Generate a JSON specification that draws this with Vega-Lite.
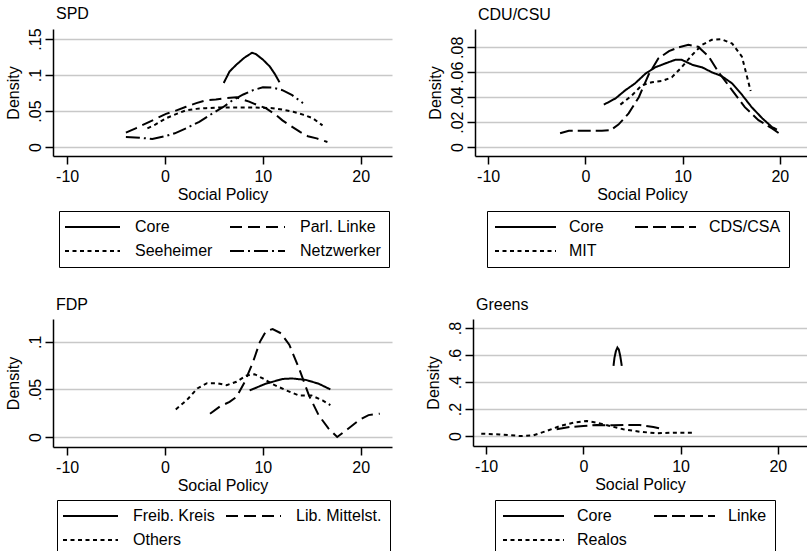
{
  "$schema": "https://vega.github.io/schema/vega-lite/v6.json",
  "padding": {"left": 5, "top": 5, "right": 0, "bottom": 0},
  "config": {
    "font": "Liberation Sans",
    "view": {"stroke": null},
    "title": {"anchor": "start", "frame": "group", "fontSize": 16, "fontWeight": "normal", "color": "black", "offset": 6, "dx": 3},
    "axis": {"domainColor": "black", "domainWidth": 1.5, "tickColor": "black", "tickWidth": 1.5, "tickSize": 8, "labelFontSize": 16, "labelColor": "black", "titleFontSize": 16, "titleFontWeight": "normal", "titleColor": "black", "grid": false, "gridColor": "#c8c8c8", "gridWidth": 1.5, "labelPadding": 4, "titlePadding": 2, "labelOverlap": false, "labelFlush": false, "labelBound": false},
    "axisY": {"labelAngle": -90, "labelAlign": "center", "labelBaseline": "alphabetic", "grid": true, "labelPadding": 5, "titlePadding": 6},
    "legend": {"orient": "none", "direction": "horizontal", "columns": 2, "symbolSize": 196, "symbolStrokeWidth": 2, "symbolStrokeColor": "black", "symbolFillColor": "transparent", "labelFontSize": 16, "labelColor": "black", "strokeColor": "black", "padding": 8, "rowPadding": 8, "columnPadding": 22, "title": null}
  },
  "resolve": {"scale": {"x": "independent", "y": "independent", "strokeDash": "independent"}, "legend": {"strokeDash": "independent"}},
  "spacing": 29,
  "vconcat": [
    {
      "spacing": 35,
      "resolve": {"scale": {"x": "independent", "y": "independent", "strokeDash": "independent"}, "legend": {"strokeDash": "independent"}},
      "hconcat": [
        {
          "width": 339, "height": 127,
          "title": {"text": "SPD"},
          "data": {"values": [
            {"g": "Core", "x": 6.0, "y": 0.089}, {"g": "Core", "x": 6.6, "y": 0.105}, {"g": "Core", "x": 7.3, "y": 0.1145}, {"g": "Core", "x": 8.1, "y": 0.124}, {"g": "Core", "x": 8.9, "y": 0.131}, {"g": "Core", "x": 9.3, "y": 0.129}, {"g": "Core", "x": 10.0, "y": 0.1215}, {"g": "Core", "x": 10.7, "y": 0.112}, {"g": "Core", "x": 11.2, "y": 0.102}, {"g": "Core", "x": 11.7, "y": 0.09},
            {"g": "Parl. Linke", "x": -4.0, "y": 0.020}, {"g": "Parl. Linke", "x": -3.0, "y": 0.026}, {"g": "Parl. Linke", "x": -1.6, "y": 0.035}, {"g": "Parl. Linke", "x": 0.1, "y": 0.046}, {"g": "Parl. Linke", "x": 1.0, "y": 0.050}, {"g": "Parl. Linke", "x": 2.15, "y": 0.056}, {"g": "Parl. Linke", "x": 3.2, "y": 0.061}, {"g": "Parl. Linke", "x": 4.2, "y": 0.065}, {"g": "Parl. Linke", "x": 5.2, "y": 0.066}, {"g": "Parl. Linke", "x": 6.25, "y": 0.068}, {"g": "Parl. Linke", "x": 7.3, "y": 0.069}, {"g": "Parl. Linke", "x": 8.6, "y": 0.063}, {"g": "Parl. Linke", "x": 9.5, "y": 0.058}, {"g": "Parl. Linke", "x": 10.3, "y": 0.054}, {"g": "Parl. Linke", "x": 11.2, "y": 0.046}, {"g": "Parl. Linke", "x": 12.0, "y": 0.037}, {"g": "Parl. Linke", "x": 13.0, "y": 0.028}, {"g": "Parl. Linke", "x": 13.8, "y": 0.021}, {"g": "Parl. Linke", "x": 14.6, "y": 0.015}, {"g": "Parl. Linke", "x": 15.5, "y": 0.012}, {"g": "Parl. Linke", "x": 16.6, "y": 0.007},
            {"g": "Seeheimer", "x": -1.8, "y": 0.026}, {"g": "Seeheimer", "x": -1.0, "y": 0.031}, {"g": "Seeheimer", "x": 0.1, "y": 0.040}, {"g": "Seeheimer", "x": 1.0, "y": 0.045}, {"g": "Seeheimer", "x": 2.15, "y": 0.051}, {"g": "Seeheimer", "x": 3.2, "y": 0.053}, {"g": "Seeheimer", "x": 4.2, "y": 0.054}, {"g": "Seeheimer", "x": 5.5, "y": 0.055}, {"g": "Seeheimer", "x": 6.9, "y": 0.055}, {"g": "Seeheimer", "x": 9.0, "y": 0.055}, {"g": "Seeheimer", "x": 11.0, "y": 0.054}, {"g": "Seeheimer", "x": 12.0, "y": 0.052}, {"g": "Seeheimer", "x": 13.1, "y": 0.049}, {"g": "Seeheimer", "x": 14.1, "y": 0.045}, {"g": "Seeheimer", "x": 15.1, "y": 0.040}, {"g": "Seeheimer", "x": 16.1, "y": 0.030},
            {"g": "Netzwerker", "x": -4.0, "y": 0.014}, {"g": "Netzwerker", "x": -2.6, "y": 0.013}, {"g": "Netzwerker", "x": -1.3, "y": 0.011}, {"g": "Netzwerker", "x": 0.0, "y": 0.015}, {"g": "Netzwerker", "x": 1.0, "y": 0.019}, {"g": "Netzwerker", "x": 2.15, "y": 0.026}, {"g": "Netzwerker", "x": 3.5, "y": 0.035}, {"g": "Netzwerker", "x": 4.9, "y": 0.047}, {"g": "Netzwerker", "x": 6.0, "y": 0.056}, {"g": "Netzwerker", "x": 6.9, "y": 0.065}, {"g": "Netzwerker", "x": 8.0, "y": 0.073}, {"g": "Netzwerker", "x": 9.0, "y": 0.079}, {"g": "Netzwerker", "x": 10.0, "y": 0.083}, {"g": "Netzwerker", "x": 11.0, "y": 0.0825}, {"g": "Netzwerker", "x": 12.0, "y": 0.079}, {"g": "Netzwerker", "x": 13.0, "y": 0.072}, {"g": "Netzwerker", "x": 14.1, "y": 0.061}
          ]},
          "mark": {"type": "line", "color": "black", "strokeWidth": 2},
          "encoding": {
            "x": {"field": "x", "type": "quantitative", "scale": {"domain": [-11.45, 23.2], "nice": false, "zero": false}, "axis": {"values": [-10, 0, 10, 20], "title": "Social Policy", "labelExpr": "toString(datum.value)"}},
            "y": {"field": "y", "type": "quantitative", "scale": {"domain": [-0.0125, 0.164], "nice": false, "zero": false}, "axis": {"values": [0, 0.05, 0.1, 0.15], "title": "Density", "labelExpr": "datum.value == 0 ? '0' : substring(format(datum.value, '.2~f'), 1)"}},
            "strokeDash": {"field": "g", "type": "nominal", "scale": {"domain": ["Core", "Parl. Linke", "Seeheimer", "Netzwerker"], "range": [[1, 0], [12, 6], [4, 3.5], [14, 4, 2, 4]]}, "legend": {"legendX": 6, "legendY": 182, "symbolType": "M-1.4286,0H6.4286", "labelOffset": 52, "columnPadding": 12}}
          }
        },
        {
          "width": 334, "height": 127,
          "title": {"text": "CDU/CSU"},
          "data": {"values": [
            {"g": "Core", "x": 1.9, "y": 0.034}, {"g": "Core", "x": 3.1, "y": 0.039}, {"g": "Core", "x": 4.1, "y": 0.0455}, {"g": "Core", "x": 5.1, "y": 0.051}, {"g": "Core", "x": 6.2, "y": 0.059}, {"g": "Core", "x": 7.2, "y": 0.064}, {"g": "Core", "x": 8.2, "y": 0.067}, {"g": "Core", "x": 9.25, "y": 0.070}, {"g": "Core", "x": 9.9, "y": 0.070}, {"g": "Core", "x": 11.0, "y": 0.066}, {"g": "Core", "x": 12.0, "y": 0.064}, {"g": "Core", "x": 13.0, "y": 0.060}, {"g": "Core", "x": 14.0, "y": 0.057}, {"g": "Core", "x": 15.1, "y": 0.051}, {"g": "Core", "x": 16.1, "y": 0.042}, {"g": "Core", "x": 17.1, "y": 0.032}, {"g": "Core", "x": 18.2, "y": 0.023}, {"g": "Core", "x": 19.2, "y": 0.016}, {"g": "Core", "x": 19.7, "y": 0.014},
            {"g": "CDS/CSA", "x": -2.6, "y": 0.011}, {"g": "CDS/CSA", "x": -1.7, "y": 0.013}, {"g": "CDS/CSA", "x": 0.0, "y": 0.013}, {"g": "CDS/CSA", "x": 1.7, "y": 0.013}, {"g": "CDS/CSA", "x": 2.6, "y": 0.0135}, {"g": "CDS/CSA", "x": 3.4, "y": 0.018}, {"g": "CDS/CSA", "x": 4.45, "y": 0.027}, {"g": "CDS/CSA", "x": 5.5, "y": 0.040}, {"g": "CDS/CSA", "x": 6.5, "y": 0.058}, {"g": "CDS/CSA", "x": 7.5, "y": 0.071}, {"g": "CDS/CSA", "x": 8.6, "y": 0.077}, {"g": "CDS/CSA", "x": 9.6, "y": 0.080}, {"g": "CDS/CSA", "x": 10.6, "y": 0.082}, {"g": "CDS/CSA", "x": 11.6, "y": 0.0805}, {"g": "CDS/CSA", "x": 12.7, "y": 0.0725}, {"g": "CDS/CSA", "x": 13.7, "y": 0.060}, {"g": "CDS/CSA", "x": 15.1, "y": 0.0455}, {"g": "CDS/CSA", "x": 16.4, "y": 0.032}, {"g": "CDS/CSA", "x": 17.8, "y": 0.0215}, {"g": "CDS/CSA", "x": 19.2, "y": 0.015}, {"g": "CDS/CSA", "x": 20.2, "y": 0.0095},
            {"g": "MIT", "x": 3.6, "y": 0.034}, {"g": "MIT", "x": 4.8, "y": 0.0415}, {"g": "MIT", "x": 5.8, "y": 0.0495}, {"g": "MIT", "x": 6.85, "y": 0.052}, {"g": "MIT", "x": 7.9, "y": 0.053}, {"g": "MIT", "x": 8.9, "y": 0.056}, {"g": "MIT", "x": 9.9, "y": 0.064}, {"g": "MIT", "x": 11.0, "y": 0.074}, {"g": "MIT", "x": 12.0, "y": 0.082}, {"g": "MIT", "x": 13.0, "y": 0.086}, {"g": "MIT", "x": 14.0, "y": 0.0865}, {"g": "MIT", "x": 15.1, "y": 0.083}, {"g": "MIT", "x": 16.1, "y": 0.0725}, {"g": "MIT", "x": 17.0, "y": 0.045}
          ]},
          "mark": {"type": "line", "color": "black", "strokeWidth": 2},
          "encoding": {
            "x": {"field": "x", "type": "quantitative", "scale": {"domain": [-11.35, 23.0], "nice": false, "zero": false}, "axis": {"values": [-10, 0, 10, 20], "title": "Social Policy", "labelExpr": "toString(datum.value)"}},
            "y": {"field": "y", "type": "quantitative", "scale": {"domain": [-0.0072, 0.0947], "nice": false, "zero": false}, "axis": {"values": [0, 0.02, 0.04, 0.06, 0.08], "title": "Density", "labelExpr": "datum.value == 0 ? '0' : substring(format(datum.value, '.2~f'), 1)"}},
            "strokeDash": {"field": "g", "type": "nominal", "scale": {"domain": ["Core", "CDS/CSA", "MIT"], "range": [[1, 0], [13, 5], [4, 3.5]]}, "legend": {"legendX": 12, "legendY": 182, "symbolType": "M-1.1429,0H7.5714", "labelOffset": 58, "columnPadding": 26}}
          }
        }
      ]
    },
    {
      "spacing": 33,
      "resolve": {"scale": {"x": "independent", "y": "independent", "strokeDash": "independent"}, "legend": {"strokeDash": "independent"}},
      "hconcat": [
        {
          "width": 339, "height": 128,
          "title": {"text": "FDP"},
          "data": {"values": [
            {"g": "Freib. Kreis", "x": 8.65, "y": 0.049}, {"g": "Freib. Kreis", "x": 10.3, "y": 0.056}, {"g": "Freib. Kreis", "x": 12.0, "y": 0.061}, {"g": "Freib. Kreis", "x": 13.0, "y": 0.0615}, {"g": "Freib. Kreis", "x": 14.4, "y": 0.060}, {"g": "Freib. Kreis", "x": 15.7, "y": 0.056}, {"g": "Freib. Kreis", "x": 16.9, "y": 0.050},
            {"g": "Lib. Mittelst.", "x": 4.6, "y": 0.0245}, {"g": "Lib. Mittelst.", "x": 5.6, "y": 0.032}, {"g": "Lib. Mittelst.", "x": 6.6, "y": 0.037}, {"g": "Lib. Mittelst.", "x": 7.3, "y": 0.042}, {"g": "Lib. Mittelst.", "x": 8.15, "y": 0.058}, {"g": "Lib. Mittelst.", "x": 9.0, "y": 0.079}, {"g": "Lib. Mittelst.", "x": 9.7, "y": 0.100}, {"g": "Lib. Mittelst.", "x": 10.3, "y": 0.111}, {"g": "Lib. Mittelst.", "x": 11.0, "y": 0.1135}, {"g": "Lib. Mittelst.", "x": 11.85, "y": 0.109}, {"g": "Lib. Mittelst.", "x": 12.7, "y": 0.097}, {"g": "Lib. Mittelst.", "x": 13.7, "y": 0.072}, {"g": "Lib. Mittelst.", "x": 14.7, "y": 0.044}, {"g": "Lib. Mittelst.", "x": 15.7, "y": 0.023}, {"g": "Lib. Mittelst.", "x": 16.7, "y": 0.009}, {"g": "Lib. Mittelst.", "x": 17.6, "y": 0.0}, {"g": "Lib. Mittelst.", "x": 18.75, "y": 0.009}, {"g": "Lib. Mittelst.", "x": 19.8, "y": 0.0175}, {"g": "Lib. Mittelst.", "x": 20.8, "y": 0.023}, {"g": "Lib. Mittelst.", "x": 21.95, "y": 0.0245},
            {"g": "Others", "x": 1.1, "y": 0.029}, {"g": "Others", "x": 2.25, "y": 0.039}, {"g": "Others", "x": 3.3, "y": 0.051}, {"g": "Others", "x": 4.3, "y": 0.0565}, {"g": "Others", "x": 5.3, "y": 0.0565}, {"g": "Others", "x": 6.3, "y": 0.0545}, {"g": "Others", "x": 7.3, "y": 0.058}, {"g": "Others", "x": 8.3, "y": 0.0645}, {"g": "Others", "x": 9.15, "y": 0.066}, {"g": "Others", "x": 10.0, "y": 0.0615}, {"g": "Others", "x": 11.0, "y": 0.0555}, {"g": "Others", "x": 12.4, "y": 0.049}, {"g": "Others", "x": 13.7, "y": 0.0435}, {"g": "Others", "x": 15.0, "y": 0.0435}, {"g": "Others", "x": 16.1, "y": 0.0385}, {"g": "Others", "x": 16.9, "y": 0.0335}
          ]},
          "mark": {"type": "line", "color": "black", "strokeWidth": 2},
          "encoding": {
            "x": {"field": "x", "type": "quantitative", "scale": {"domain": [-11.45, 23.2], "nice": false, "zero": false}, "axis": {"values": [-10, 0, 10, 20], "title": "Social Policy", "labelExpr": "toString(datum.value)"}},
            "y": {"field": "y", "type": "quantitative", "scale": {"domain": [-0.0105, 0.124], "nice": false, "zero": false}, "axis": {"values": [0, 0.05, 0.1], "title": "Density", "labelExpr": "datum.value == 0 ? '0' : substring(format(datum.value, '.2~f'), 1)"}},
            "strokeDash": {"field": "g", "type": "nominal", "scale": {"domain": ["Freib. Kreis", "Lib. Mittelst.", "Others"], "range": [[1, 0], [12, 6], [4, 3.5]]}, "legend": {"legendX": 4, "legendY": 181, "symbolType": "M-1.4286,0H6.4286", "labelOffset": 52, "columnPadding": 6}}
          }
        },
        {
          "width": 334, "height": 127,
          "title": {"text": "Greens"},
          "data": {"values": [
            {"g": "Core", "x": 3.1, "y": 0.52}, {"g": "Core", "x": 3.2, "y": 0.58}, {"g": "Core", "x": 3.35, "y": 0.63}, {"g": "Core", "x": 3.5, "y": 0.655}, {"g": "Core", "x": 3.65, "y": 0.64}, {"g": "Core", "x": 3.8, "y": 0.59}, {"g": "Core", "x": 3.95, "y": 0.52},
            {"g": "Linke", "x": -2.75, "y": 0.05}, {"g": "Linke", "x": -1.4, "y": 0.067}, {"g": "Linke", "x": 0.0, "y": 0.074}, {"g": "Linke", "x": 1.4, "y": 0.082}, {"g": "Linke", "x": 3.1, "y": 0.079}, {"g": "Linke", "x": 4.5, "y": 0.082}, {"g": "Linke", "x": 5.8, "y": 0.082}, {"g": "Linke", "x": 7.2, "y": 0.067}, {"g": "Linke", "x": 8.25, "y": 0.05},
            {"g": "Realos", "x": -10.5, "y": 0.017}, {"g": "Realos", "x": -8.6, "y": 0.012}, {"g": "Realos", "x": -6.5, "y": 0.0}, {"g": "Realos", "x": -5.15, "y": 0.005}, {"g": "Realos", "x": -3.8, "y": 0.037}, {"g": "Realos", "x": -2.4, "y": 0.074}, {"g": "Realos", "x": -1.0, "y": 0.099}, {"g": "Realos", "x": 0.35, "y": 0.111}, {"g": "Realos", "x": 1.4, "y": 0.099}, {"g": "Realos", "x": 2.75, "y": 0.074}, {"g": "Realos", "x": 4.1, "y": 0.05}, {"g": "Realos", "x": 5.8, "y": 0.032}, {"g": "Realos", "x": 7.55, "y": 0.02}, {"g": "Realos", "x": 9.3, "y": 0.025}, {"g": "Realos", "x": 11.3, "y": 0.025}
          ]},
          "mark": {"type": "line", "color": "black", "strokeWidth": 2},
          "encoding": {
            "x": {"field": "x", "type": "quantitative", "scale": {"domain": [-11.35, 23.0], "nice": false, "zero": false}, "axis": {"values": [-10, 0, 10, 20], "title": "Social Policy", "labelExpr": "toString(datum.value)"}},
            "y": {"field": "y", "type": "quantitative", "scale": {"domain": [-0.074, 0.867], "nice": false, "zero": false}, "axis": {"values": [0, 0.2, 0.4, 0.6, 0.8], "title": "Density", "labelExpr": "datum.value == 0 ? '0' : substring(format(datum.value, '.2~f'), 1)"}},
            "strokeDash": {"field": "g", "type": "nominal", "scale": {"domain": ["Core", "Linke", "Realos"], "range": [[1, 0], [13, 5], [4, 3.5]]}, "legend": {"legendX": 22, "legendY": 181, "symbolType": "M-1.1429,0H7.5714", "labelOffset": 58}}
          }
        }
      ]
    }
  ]
}
